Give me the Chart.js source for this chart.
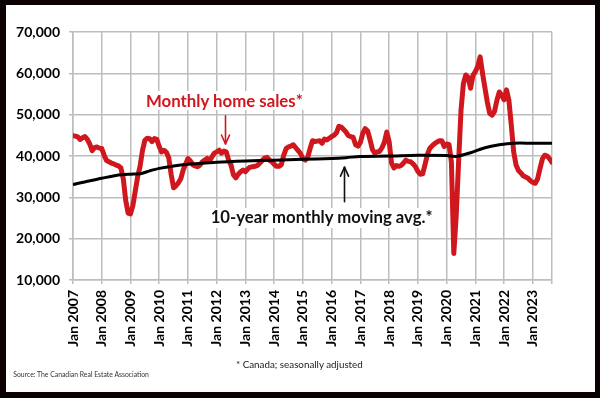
<!DOCTYPE html>
<html><head><meta charset="utf-8">
<script src="https://cdn.jsdelivr.net/npm/chart.js@4.4.0/dist/chart.umd.min.js"></script>
<style>
html,body{margin:0;padding:0;}
body{width:600px;height:398px;background:#0c0202;position:relative;overflow:hidden;}
#paper{position:absolute;left:6px;top:5px;width:589px;height:387px;background:#fff;}
#c{position:absolute;left:0;top:0;}
.t{position:absolute;left:0;top:0;white-space:nowrap;line-height:1.15;font-family:Lato,"Open Sans",sans-serif;}
.ann{font-weight:bold;background:#fff;padding:0 3px;font-size:16px;}
.foot{font-size:11px;}
</style></head><body>
<div id="paper"></div>
<canvas id="c" width="600" height="398"></canvas>
<div class="t ann" id="a1" style="color:#d0171e"><span class="txt">Monthly home sales*</span></div>
<div class="t ann" id="a2" style="color:#111"><span class="txt">10-year monthly moving avg.*</span></div>
<div class="t foot" id="f1" style="color:#1a1a1a"><span class="txt">* Canada; seasonally adjusted</span></div>
<div class="t foot" id="f2" style="color:#333"><span class="txt">Source: The Canadian Real Estate Association</span></div>
<script>
// Month index 0 = Jan 2007
const xTickLabels = ['Jan 2007','Jan 2008','Jan 2009','Jan 2010','Jan 2011','Jan 2012','Jan 2013','Jan 2014','Jan 2015','Jan 2016','Jan 2017','Jan 2018','Jan 2019','Jan 2020','Jan 2021','Jan 2022','Jan 2023'];
const yTickValues = [10000,20000,30000,40000,50000,60000,70000];

// Monthly home sales (seasonally adjusted), Jan 2007 .. Sep 2023
const sales2007 = [44900,44800,44600,44000,44400,44700,44000,42900,41300,42000,42200,41900];
const sales2008 = [41800,40200,38900,38600,38300,38100,37800,37600,37100,34500,29300,26200];
const sales2009 = [26000,28000,31500,35000,37500,41300,43800,44300,44200,43500,44200,44000];
const sales2010 = [42300,41000,41400,40900,39500,35500,32300,32800,33500,34500,36600,38000];
const sales2011 = [39400,38800,37900,37600,37400,37800,38600,39000,39400,38700,39800,40700];
const sales2012 = [41000,41400,40700,41200,41000,39000,37800,35400,34700,35600,36200,36600];
const sales2013 = [36200,36900,37300,37400,37500,37700,38300,38900,39500,39700,39000,38600];
const sales2014 = [38000,37500,37500,37900,40200,41800,42200,42400,42700,42000,41300,40600];
const sales2015 = [39300,39000,39700,41800,43700,43500,43600,43700,43100,44100,43900,44300];
const sales2016 = [44700,45000,45600,47200,47000,46400,45800,44900,44700,44500,42700,42400];
const sales2017 = [43300,45500,46600,46100,44000,41600,40700,41000,41100,42000,43300,45800];
const sales2018 = [43500,38300,37100,37700,37500,37700,38300,39000,38700,38600,38100,37400];
const sales2019 = [36300,35600,35700,38000,40400,41900,42500,43000,43400,43700,43700,42300];
const sales2020 = [42900,42800,38500,16400,25500,38500,51000,57500,59600,59000,56400,59500];
const sales2021 = [60400,61700,64000,60000,56500,53000,50300,49900,50800,53500,55500,54700];
const sales2022 = [53600,56000,53500,47500,41000,37800,36500,35900,35200,34900,34600,34000];
const sales2023 = [33600,33400,34500,37000,39300,40200,40000,39300,38500];

// 10-year monthly moving average, read at these month indices
const maMonths = [0,6,12,18,24,28,32,36,42,48,60,72,84,96,108,114,120,132,144,156,160,166,172,178,184,192,200];
const maValues = [33100,33900,34600,35300,35600,35700,36400,37000,37600,38000,38500,38800,39000,39200,39400,39600,39900,40000,40200,40100,39900,40800,42000,42700,43100,43100,43100];

const sales = [].concat(sales2007,sales2008,sales2009,sales2010,sales2011,sales2012,sales2013,sales2014,sales2015,sales2016,sales2017,sales2018,sales2019,sales2020,sales2021,sales2022,sales2023);
const lastMonth = sales.length - 1;

const arrows = [
  {month:63.5, from:49700, to:42900, color:'#d0171e'},
  {month:113.2, from:28950, to:37300, color:'#111'}
];

const arrowPlugin = {
  id:'arrows',
  afterDatasetsDraw(chart){
    const {ctx, scales:{x,y}} = chart;
    arrows.forEach(a=>{
      const px = Math.round(x.getPixelForValue(a.month)) + 0.5;
      const y1 = y.getPixelForValue(a.from), y2 = y.getPixelForValue(a.to);
      const dir = Math.sign(y2 - y1);
      ctx.save();
      ctx.strokeStyle = a.color; ctx.lineWidth = 1.6; ctx.lineCap='round'; ctx.lineJoin='round';
      ctx.beginPath(); ctx.moveTo(px, y1); ctx.lineTo(px, y2); ctx.stroke();
      ctx.beginPath(); ctx.moveTo(px-4, y2 - dir*9); ctx.lineTo(px, y2); ctx.lineTo(px+4, y2 - dir*9); ctx.stroke();
      ctx.restore();
    });
  }
};

const gridColor = '#bdbdbd';
const tickFont = {family:'Lato, "Open Sans", sans-serif', size:14, weight:'bold'};

new Chart(document.getElementById('c'), {
  type:'line',
  data:{
    datasets:[
      {label:'10-year monthly moving avg.*', data: maMonths.map((m,i)=>({x:m, y:maValues[i]})),
       borderColor:'#000', borderWidth:3, pointRadius:0, tension:0.3, order:0},
      {label:'Monthly home sales*', data: sales.map((v,i)=>({x:i, y:v})),
       borderColor:'#d0171e', borderWidth:5, pointRadius:0, tension:0, borderJoinStyle:'round', borderCapStyle:'round', order:1}
    ]
  },
  options:{
    responsive:false, animation:false, devicePixelRatio:1,
    layout:{padding:{left:13, top:32, right:48, bottom:48}},
    plugins:{legend:{display:false}, tooltip:{enabled:false}},
    scales:{
      x:{
        type:'linear', min:0, max:lastMonth,
        afterBuildTicks(s){ const t = xTickLabels.map((_,i)=>({value:i*12})); t.push({value:lastMonth}); s.ticks = t; },
        afterFit(s){ s.height = 70; s.paddingLeft = 0; s.paddingRight = 0; },
        ticks:{ autoSkip:false, minRotation:90, maxRotation:90, padding:6, color:'#000', font:tickFont,
          callback(v){ return (v % 12 === 0 && xTickLabels[v/12]) ? xTickLabels[v/12] : ''; } },
        grid:{ color:gridColor, lineWidth:1.5, tickLength:4 },
        border:{ color:gridColor, width:1.5 }
      },
      y:{
        min:yTickValues[0], max:yTickValues[yTickValues.length-1],
        afterBuildTicks(s){ s.ticks = yTickValues.map(v=>({value:v})); },
        afterFit(s){ s.width = 60; s.paddingTop = 0; s.paddingBottom = 0; },
        ticks:{ padding:9, color:'#000', font:tickFont, callback(v){ return v.toLocaleString('en-US'); } },
        grid:{ color:gridColor, lineWidth:1.5, tickLength:4 },
        border:{ color:gridColor, width:1.5 }
      }
    }
  },
  plugins:[arrowPlugin]
});

function place(id, x, baseline, w){
  const el = document.getElementById(id);
  const span = el.querySelector('.txt');
  let fs = parseFloat(getComputedStyle(el).fontSize);
  const cur = span.getBoundingClientRect().width;
  fs = fs * w / cur;
  el.style.fontSize = fs + 'px';
  const mk = document.createElement('span');
  mk.style.cssText = 'display:inline-block;width:0;height:0;vertical-align:baseline;';
  el.appendChild(mk);
  const r = el.getBoundingClientRect();
  const b = mk.getBoundingClientRect().top - r.top;
  const padL = parseFloat(getComputedStyle(el).paddingLeft) || 0;
  el.style.left = (x - padL) + 'px';
  el.style.top = (baseline - b) + 'px';
}
place('a1', 146, 106.7, 157);
place('a2', 210.7, 223.3, 222);
place('f1', 236, 368, 127);
place('f2', 13.3, 377, 136);
</script>
</body></html>
